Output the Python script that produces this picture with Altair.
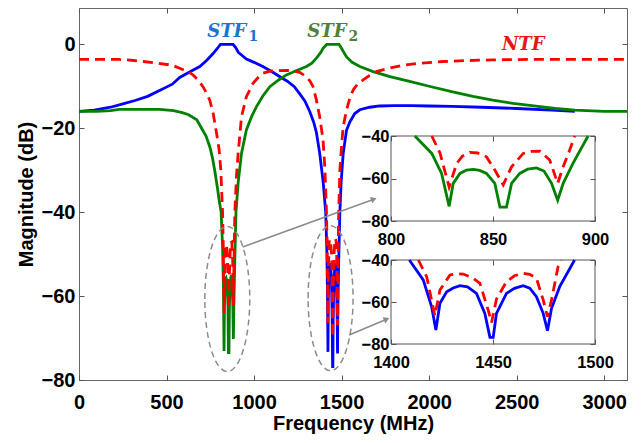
import altair as alt
import pandas as pd

# ---------------- data ----------------
stf1_f = [0, 87, 180, 251, 320, 392, 460, 533, 575, 650, 690, 730, 766, 790, 808, 880, 895, 910, 930, 956,
          1000, 1050, 1100, 1150, 1190, 1230, 1261, 1290, 1318, 1340, 1356, 1375, 1395, 1409,
          1415.8, 1419.9, 1422, 1424, 1427.3, 1430.5, 1433.8, 1437.5, 1441.9, 1446, 1448.5, 1450.1,
          1451.7, 1456.6, 1460.5, 1464.8, 1468, 1471.3, 1474.6, 1476.7, 1478.7, 1482.7, 1490,
          1497, 1509, 1528, 1547, 1575, 1604, 1660, 1718, 1800, 1900, 2000, 2130, 2300, 2500, 2700, 2832]
stf1_db = [-16.0, -15.7, -15.0, -14.2, -13.4, -12.4, -11.0, -9.5, -7.9, -6.2, -5.3, -3.8, -2.2, -1.0, 0, 0, -0.8, -1.9, -2.6, -3.5,
           -4.3, -5.3, -6.5, -7.8, -8.8, -10.1, -11.8, -13.5, -16.0, -18.5, -21, -26, -33, -40,
           -49.5, -62.2, -73.3, -60.6, -55.1, -53.3, -52.2, -52.8, -55.9, -65.4, -76.8, -76.8,
           -65.4, -55.9, -53.5, -52.2, -53.4, -57.5, -65.4, -73.7, -63, -52.7, -40,
           -33, -26, -20.5, -18.5, -16.5, -15.6, -15.0, -14.7, -14.6, -14.6, -14.7, -14.8, -15.0, -15.3, -15.7, -16.0]

stf2_f = [0, 100, 180, 230, 460, 540, 590, 626, 673, 700, 725, 747, 762, 775, 790, 800, 811.7,
          820, 824.8, 828.5, 830.5, 833.8, 837, 840.3, 843.5, 846.8, 850.9, 853.4, 856.6, 859.1, 863.1,
          867, 871.3, 875, 878.7, 881.7, 884.4, 889.2, 896.6,
          909, 928, 956, 985, 1013, 1050, 1090, 1140, 1185, 1240, 1299, 1330, 1356, 1380, 1395, 1415,
          1485, 1500, 1528, 1560, 1604, 1680, 1776, 1894, 2000, 2128, 2250, 2363, 2480, 2598, 2720, 2832, 3000, 3130]
stf2_db = [-16.0, -16.0, -15.8, -15.5, -15.5, -15.8, -16.3, -16.8, -18.0, -20.0, -21.8, -24.4, -27, -30, -34, -37, -40,
           -48.2, -57.6, -73.1, -62.3, -57.6, -56.0, -55.7, -56.2, -57.6, -62.3, -73.5, -73.5, -62.3, -57.6,
           -55.6, -55.0, -56.5, -62.3, -70.2, -62.3, -52.9, -40,
           -33, -26, -20.4, -17.3, -14.9, -12.3, -10.1, -8.5, -7.3, -6.3, -5.3, -4.5, -3.3, -2.0, -0.9, 0,
           0, -1.0, -3.0, -4.3, -5.3, -6.5, -7.7, -8.9, -10.0, -11.3, -12.4, -13.3, -14.1, -14.7, -15.3, -15.7, -16.0, -16.0]

ntf_f = [0, 228, 300, 368, 450, 533, 575, 626, 651, 680, 708, 728, 747, 766, 785, 800, 810, 820,
         824, 828.5, 832.2, 835, 838.7, 842.5, 846.8, 850.9, 855, 859.1, 864.8, 869, 872.9, 877.8, 881.7,
         884.4, 887.6, 890.1,
         900, 909, 928, 956, 994, 1030, 1051, 1090, 1128, 1180, 1223, 1260, 1299, 1320, 1337, 1356, 1375,
         1394, 1405, 1413.4,
         1417.5, 1421.5, 1424, 1428.9, 1432, 1435.4, 1440, 1443.6, 1447.6, 1449.3, 1451.7, 1456.6, 1460.5,
         1464.8, 1468, 1471.3, 1474.6, 1476.7, 1478.7, 1481.9, 1483.5,
         1490, 1500, 1509, 1528, 1547, 1566, 1590, 1623, 1660, 1699, 1750, 1847, 1950, 2081, 2200, 2363, 2600, 3130]
ntf_db = [-3.6, -3.6, -3.8, -4.1, -4.5, -5.0, -5.7, -6.6, -7.3, -8.5, -10.1, -11.6, -13.3, -16.4, -21, -25, -30, -40,
          -48, -64, -52.9, -49.5, -47.7, -48.0, -49.8, -56, -63, -54.5, -48.2, -47.2, -47.1, -51.3, -62.3,
          -54.5, -46.6, -40,
          -31, -26, -17.3, -12.5, -9.3, -7.6, -6.9, -6.4, -6.3, -6.2, -6.3, -6.7, -7.7, -8.8, -10.1, -13.3, -17.3,
          -22.8, -30, -40,
          -48, -66.5, -54.3, -47.1, -46.5, -46.7, -48.5, -51.1, -63.8, -69.8, -58.6, -50.3, -47.5,
          -46.3, -46.8, -48.7, -59, -67, -59, -43.2, -40,
          -30, -24, -19.6, -15.7, -12.8, -10.9, -9.5, -8.5, -7.4, -6.5, -5.9, -5.0, -4.5, -4.1, -3.9, -3.7, -3.6, -3.6]

x_ticks = [0, 500, 1000, 1500, 2000, 2500, 3000]
y_ticks = [-80, -60, -40, -20, 0]
inset1_x_ticks = [800, 850, 900]
inset2_x_ticks = [1400, 1450, 1500]
inset_y_ticks = [-80, -60, -40]

label_text = ["STF", "STF", "NTF"]
label_sub = ["1", "2", ""]
label_f = [956, 1528, 2659]
label_db = [1.8, 1.8, -1.4]
label_color = ["#1B75D0", "#4F7F3A", "#E8141B"]

ellipse_f = [847, 1437]
ellipse_db = [-60.7, -60.5]

arrow_f = [935, 1543]
arrow_db = [-48.3, -69.3]
arrow_f2 = [1684, 1757]
arrow_db2 = [-36.9, -65.5]
arrow_angle = [70, 67]

# ---------------- layout ----------------
W, H = 548, 372
XDOM = [0, 3130]
YDOM = [-80, 8.65]
I_X = [312, 516]
I1_Y = [213, 128]
I2_Y = [336, 252]

FONT = "Liberation Sans"
BLUE, GREEN, RED = "#0000FF", "#008000", "#FF0000"

df_b = pd.DataFrame({"f": stf1_f, "db": stf1_db})
df_g = pd.DataFrame({"f": stf2_f, "db": stf2_db})
df_r = pd.DataFrame({"f": ntf_f, "db": ntf_db})


def sx(domain, rng=None):
    if rng is None:
        return alt.Scale(domain=domain, nice=False, zero=False)
    return alt.Scale(domain=domain, range=rng, nice=False, zero=False)


def tick_axis(orient, offset, values):
    return alt.Axis(orient=orient, offset=offset, values=values, labels=False, domain=False,
                    grid=False, ticks=True, tickSize=5, tickColor="#555", tickWidth=1,
                    title=None, zindex=1)


def lab_x(values, offset, size, pad, title=None, titleY=None):
    kw = dict(orient="bottom", offset=offset, values=values, format="d", ticks=False, tickSize=0,
              domain=False, grid=False, labelFlush=False, labelOverlap=False, labelFont=FONT,
              labelFontWeight="bold", labelFontSize=size, labelColor="black", labelPadding=pad,
              title=title)
    if title:
        kw.update(titleFont=FONT, titleFontWeight="bold", titleFontSize=20, titleColor="black",
                  titleY=titleY)
    return alt.Axis(**kw)


def lab_y(values, offset, size, pad, title=None, titleX=None):
    kw = dict(orient="left", offset=offset, values=values, format="d", ticks=False, tickSize=0,
              domain=False, grid=False, labelFlush=False, labelOverlap=False, labelFont=FONT,
              labelFontWeight="bold", labelFontSize=size, labelColor="black", labelPadding=pad,
              title=title)
    if title:
        kw.update(titleFont=FONT, titleFontWeight="bold", titleFontSize=20, titleColor="black",
                  titleX=titleX)
    return alt.Axis(**kw)


def line(df, color, dashed, xs, ys, xaxis=None, yaxis=None, filt=None):
    kw = dict(color=color, strokeWidth=2.8)
    if dashed:
        kw["strokeDash"] = [10, 6]
    c = alt.Chart(df)
    if filt is not None:
        c = c.transform_filter(filt)
    return c.mark_line(**kw).encode(
        x=alt.X("f:Q", scale=xs, axis=xaxis),
        y=alt.Y("db:Q", scale=ys, axis=yaxis),
    )


MX = sx(XDOM)
MY = sx(YDOM)

main_b = line(df_b, BLUE, False, MX, MY,
              lab_x(x_ticks, 0, 20, 12, "Frequency (MHz)", 33),
              lab_y(y_ticks, 0, 20, 4, "Magnitude (dB)", -43))
main_g = line(df_g, GREEN, False, MX, MY,
              tick_axis("top", -H, x_ticks), tick_axis("right", -W, y_ticks))
main_r = line(df_r, RED, True, MX, MY,
              tick_axis("bottom", -H, x_ticks), tick_axis("left", -W, y_ticks))

lab_df = pd.DataFrame({"f": label_f, "db": label_db, "t": label_text, "s": label_sub, "c": label_color})
labels = alt.Chart(lab_df).mark_text(align="right", baseline="alphabetic", font="DejaVu Serif",
                                     fontStyle="italic", fontWeight="bold", fontSize=18).encode(
    x=alt.X("f:Q", scale=MX, axis=None), y=alt.Y("db:Q", scale=MY, axis=None),
    text="t:N", color=alt.Color("c:N", scale=None))
subs = alt.Chart(lab_df).mark_text(align="left", baseline="alphabetic", font="DejaVu Serif",
                                   fontWeight="bold", fontSize=14, dx=2, dy=4).encode(
    x=alt.X("f:Q", scale=MX, axis=None), y=alt.Y("db:Q", scale=MY, axis=None),
    text="s:N", color=alt.Color("c:N", scale=None))

ell_df = pd.DataFrame({"f": ellipse_f, "db": ellipse_db})
ELL = "M -0.31 0 A 0.31 1 0 1 1 0.31 0 A 0.31 1 0 1 1 -0.31 0 Z"
ellipses = alt.Chart(ell_df).mark_point(shape=ELL, size=21025, filled=False, stroke="#8c8c8c",
                                        strokeWidth=1.5, strokeDash=[6, 4], opacity=1).encode(
    x=alt.X("f:Q", scale=MX, axis=None), y=alt.Y("db:Q", scale=MY, axis=None))

arr_df = pd.DataFrame({"f": arrow_f, "db": arrow_db, "f2": arrow_f2, "db2": arrow_db2, "a": arrow_angle})
arrows = alt.Chart(arr_df).mark_rule(color="#8c8c8c", strokeWidth=1.6).encode(
    x=alt.X("f:Q", scale=MX, axis=None), y=alt.Y("db:Q", scale=MY, axis=None),
    x2="f2:Q", y2="db2:Q")
heads = alt.Chart(arr_df).mark_point(shape="triangle-up", filled=True, size=45, color="#8c8c8c",
                                     opacity=1).encode(
    x=alt.X("f2:Q", scale=MX, axis=None), y=alt.Y("db2:Q", scale=MY, axis=None),
    angle=alt.Angle("a:Q", scale=None))

# ---------------- insets ----------------
def inset(xdom, xticks, yr, series):
    xs = sx(xdom, I_X)
    ys = sx([-80, -40], yr)
    ybot, ytop = yr
    frame_df = pd.DataFrame({"x1": [xdom[0]], "x2": [xdom[1]], "y1": [-80], "y2": [-40]})
    frame = alt.Chart(frame_df).mark_rect(filled=False, stroke="#555", strokeWidth=1).encode(
        x=alt.X("x1:Q", scale=xs, axis=lab_x(xticks, ybot - H, 16.5, 10)),
        x2="x2:Q",
        y=alt.Y("y1:Q", scale=ys, axis=lab_y(inset_y_ticks, -I_X[0], 16.5, 2)),
        y2="y2:Q")
    filt = (alt.datum.f >= xdom[0]) & (alt.datum.f <= xdom[1]) & (alt.datum.db <= -40)
    (df1, c1, d1), (df2, c2, d2) = series
    l1 = line(df1, c1, d1, xs, ys, tick_axis("top", -ybot, xticks),
              tick_axis("right", I_X[0] - W, inset_y_ticks), filt)
    l2 = line(df2, c2, d2, xs, ys, tick_axis("bottom", ytop - H, xticks),
              tick_axis("left", -I_X[1], inset_y_ticks), filt)
    return [frame, l1, l2]


ins1 = inset([800, 900], inset1_x_ticks, I1_Y, [(df_g, GREEN, False), (df_r, RED, True)])
ins2 = inset([1400, 1500], inset2_x_ticks, I2_Y, [(df_b, BLUE, False), (df_r, RED, True)])

chart = alt.layer(main_b, main_g, main_r, ellipses, arrows, heads, labels, subs, *ins1, *ins2).resolve_scale(
    x="independent", y="independent").resolve_axis(x="independent", y="independent").properties(
    width=W, height=H, autosize=alt.AutoSizeParams(type="none"),
    padding={"left": 71, "top": 0, "right": 8, "bottom": 55}).configure_view(stroke="#666", strokeWidth=1)

chart.save("out.html", embed_options={"renderer": "svg", "actions": False})
